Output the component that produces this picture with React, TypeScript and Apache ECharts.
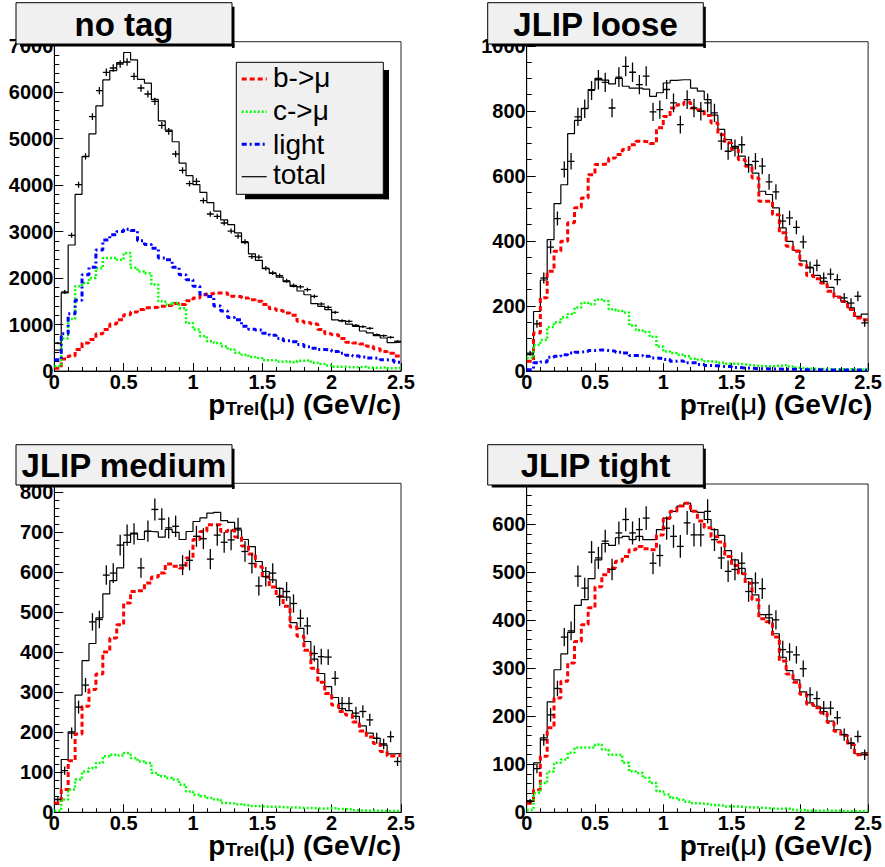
import React, { useEffect, useRef } from "react";
import * as echarts from "echarts";

const X_MIN = 0;
const X_MAX = 2.5;
const BIN_WIDTH = 0.05;

// ---------- panel 1: no tag ----------
const NOTAG_TOTAL = [450, 1680, 2710, 3800, 4610, 5100, 5700, 6260, 6460, 6630, 6850, 6690, 6270, 6190, 5840, 5380, 5180, 4930, 4470, 4200, 4010, 3840, 3620, 3440, 3250, 3150, 2970, 2760, 2520, 2380, 2200, 2100, 2020, 1920, 1820, 1720, 1640, 1450, 1390, 1320, 1100, 1080, 1010, 960, 860, 820, 760, 710, 610, 620];
const NOTAG_B = [60, 260, 320, 460, 600, 680, 800, 890, 1010, 1100, 1210, 1270, 1320, 1360, 1370, 1390, 1410, 1450, 1430, 1510, 1570, 1640, 1660, 1680, 1680, 1610, 1600, 1570, 1530, 1500, 1430, 1340, 1300, 1250, 1200, 1070, 1040, 1010, 890, 800, 780, 700, 620, 600, 580, 530, 480, 420, 380, 320];
const NOTAG_C = [100, 700, 1120, 1820, 1890, 2000, 2210, 2430, 2430, 2390, 2540, 2220, 2140, 2100, 1860, 1500, 1430, 1460, 1350, 1030, 890, 750, 640, 600, 530, 460, 390, 350, 300, 280, 230, 230, 200, 210, 190, 220, 230, 180, 150, 120, 90, 90, 80, 80, 90, 70, 70, 80, 60, 70];
const NOTAG_LIGHT = [240, 800, 1230, 1520, 2070, 2230, 2600, 2820, 2930, 3000, 3050, 3020, 2800, 2720, 2640, 2430, 2390, 2230, 2070, 1960, 1820, 1650, 1600, 1400, 1290, 1150, 1100, 960, 900, 880, 810, 770, 700, 650, 630, 570, 520, 490, 460, 450, 420, 380, 340, 320, 300, 280, 270, 240, 230, 190];
const NOTAG_DATA = [600, 1700, 2918, 4007, 4616, 5470, 6029, 6423, 6516, 6602, 6645, 6337, 6086, 5957, 5799, 5283, 5154, 4667, 4315, 4029, 4079, 3663, 3376, 3326, 3183, 3010, 2900, 2780, 2460, 2450, 2210, 2110, 2050, 1940, 1840, 1810, 1750, 1606, 1441, 1369, 1262, 1082, 1068, 982, 953, 918, 781, 760, 724, 640];

// ---------- panel 2: JLIP loose ----------
const LOOSE_TOTAL = [50, 183, 280, 404, 515, 573, 730, 771, 808, 866, 900, 895, 883, 900, 876, 870, 870, 867, 845, 856, 886, 894, 896, 896, 870, 861, 835, 787, 743, 712, 691, 661, 635, 609, 553, 543, 502, 440, 399, 371, 339, 317, 294, 276, 257, 230, 214, 194, 168, 175];
const LOOSE_B = [30, 117, 225, 307, 368, 399, 456, 502, 532, 604, 635, 637, 655, 666, 681, 696, 707, 705, 700, 748, 783, 809, 819, 827, 809, 804, 786, 763, 727, 702, 681, 650, 630, 594, 522, 522, 481, 425, 384, 368, 327, 294, 284, 271, 245, 227, 214, 189, 163, 158];
const LOOSE_C = [40, 80, 95, 135, 150, 165, 175, 195, 210, 205, 220, 215, 190, 185, 180, 140, 125, 120, 105, 75, 60, 55, 50, 45, 38, 35, 30, 28, 25, 22, 22, 20, 18, 16, 15, 14, 16, 18, 14, 10, 8, 7, 6, 6, 5, 5, 5, 5, 4, 5];
const LOOSE_LIGHT = [4, 25, 28, 42, 45, 50, 55, 58, 60, 63, 65, 63, 61, 58, 55, 48, 48, 45, 40, 38, 35, 30, 31, 25, 25, 20, 17, 16, 14, 14, 11, 9, 9, 7, 7, 6, 6, 5, 5, 5, 4, 4, 4, 3, 3, 3, 3, 3, 3, 3];
const LOOSE_DATA = [55, 145, 286, 381, 469, 620, 645, 782, 807, 863, 896, 888, 809, 904, 937, 919, 881, 907, 797, 804, 866, 825, 758, 835, 809, 799, 825, 794, 707, 676, 686, 696, 635, 645, 630, 582, 551, 461, 471, 442, 397, 319, 325, 286, 298, 281, 225, 209, 230, 148];

// ---------- panel 3: JLIP medium ----------
const MEDIUM_TOTAL = [32, 132, 201, 293, 379, 422, 486, 546, 579, 611, 675, 698, 682, 702, 701, 688, 707, 700, 682, 702, 727, 736, 748, 750, 729, 725, 706, 682, 664, 627, 602, 581, 560, 538, 474, 460, 427, 383, 347, 314, 287, 259, 254, 240, 216, 198, 185, 168, 146, 147];
const MEDIUM_B = [23, 57, 129, 196, 265, 307, 346, 401, 436, 469, 523, 552, 554, 573, 588, 598, 621, 615, 611, 636, 682, 702, 719, 719, 702, 705, 688, 666, 646, 614, 588, 563, 540, 515, 463, 440, 405, 360, 325, 297, 268, 252, 243, 226, 203, 188, 172, 152, 141, 142];
const MEDIUM_C = [4, 32, 57, 82, 102, 111, 123, 140, 144, 142, 148, 136, 127, 123, 98, 90, 86, 82, 69, 52, 44, 40, 36, 32, 23, 22, 20, 18, 16, 15, 14, 14, 13, 12, 12, 11, 11, 10, 9, 10, 10, 8, 7, 5, 4, 4, 4, 3, 3, 3];
const MEDIUM_DATA = [32, 104, 198, 263, 318, 476, 482, 593, 598, 668, 693, 696, 611, 703, 757, 733, 711, 715, 618, 630, 690, 684, 633, 693, 675, 681, 710, 652, 622, 566, 589, 598, 539, 552, 522, 485, 466, 397, 389, 388, 335, 272, 272, 248, 252, 231, 185, 171, 189, 127];

// ---------- panel 4: JLIP tight ----------
const TIGHT_TOTAL = [24, 103, 155, 230, 297, 330, 375, 431, 443, 487, 526, 560, 556, 572, 575, 568, 575, 568, 568, 589, 613, 627, 638, 644, 627, 625, 610, 589, 577, 545, 526, 508, 487, 453, 412, 405, 372, 323, 295, 276, 251, 228, 221, 210, 190, 172, 162, 144, 122, 124];
const TIGHT_B = [19, 47, 117, 176, 238, 273, 311, 356, 391, 426, 470, 495, 509, 523, 533, 547, 554, 549, 547, 578, 612, 627, 638, 644, 627, 607, 593, 574, 563, 533, 514, 497, 477, 443, 403, 397, 365, 315, 288, 271, 246, 225, 218, 207, 187, 169, 160, 141, 120, 121];
const TIGHT_C = [5, 40, 61, 85, 103, 110, 124, 135, 135, 135, 141, 131, 120, 120, 103, 85, 82, 72, 61, 44, 37, 30, 26, 22, 19, 18, 17, 15, 14, 12, 12, 11, 10, 10, 9, 8, 7, 8, 7, 5, 5, 3, 3, 3, 3, 3, 2, 3, 2, 3];
const TIGHT_DATA = [23, 91, 151, 203, 258, 365, 378, 492, 467, 542, 530, 565, 506, 582, 610, 582, 589, 613, 519, 535, 592, 575, 554, 603, 578, 578, 627, 568, 530, 502, 506, 519, 460, 478, 466, 412, 401, 339, 334, 328, 299, 245, 237, 217, 217, 197, 162, 144, 158, 120];

const TITLES = ["no tag", "JLIP loose", "JLIP medium", "JLIP tight"];
const LEGEND_LABELS = ["b->μ", "c->μ", "light", "total"];

const FONT = '"Liberation Sans", Arial, Helvetica, sans-serif';

const STYLE_B = { color: "#ff0000", width: 3, type: [5, 3] as any };
const STYLE_C = { color: "#00ff00", width: 2.5, type: [2, 2] as any };
const STYLE_L = { color: "#0000ff", width: 3, type: [5, 3, 2, 3] as any };
const STYLE_T = { color: "#000000", width: 1.2, type: "solid" as any };

type Panel = {
  total: number[];
  b: number[];
  c: number[];
  light: number[] | null;
  data: number[];
  yMax: number;
  yInterval: number;
  yMinor: number;
  grid: { left: number; top: number; width: number; height: number };
  box: { x: number; y: number; w: number; h: number };
};

const PANELS: Panel[] = [
  {
    total: NOTAG_TOTAL, b: NOTAG_B, c: NOTAG_C, light: NOTAG_LIGHT, data: NOTAG_DATA,
    yMax: 7082, yInterval: 1000, yMinor: 5,
    grid: { left: 54.3, top: 41.7, width: 346.7, height: 329.3 },
    box: { x: 16, y: 2.7, w: 216, h: 41.3 },
  },
  {
    total: LOOSE_TOTAL, b: LOOSE_B, c: LOOSE_C, light: LOOSE_LIGHT, data: LOOSE_DATA,
    yMax: 1013, yInterval: 200, yMinor: 4,
    grid: { left: 526.7, top: 41.7, width: 345.6, height: 329.3 },
    box: { x: 487.7, y: 2.7, w: 215.6, h: 41.3 },
  },
  {
    total: MEDIUM_TOTAL, b: MEDIUM_B, c: MEDIUM_C, light: null, data: MEDIUM_DATA,
    yMax: 822.5, yInterval: 100, yMinor: 5,
    grid: { left: 54.3, top: 483.3, width: 346.7, height: 329 },
    box: { x: 16, y: 444.7, w: 216, h: 40.3 },
  },
  {
    total: TIGHT_TOTAL, b: TIGHT_B, c: TIGHT_C, light: null, data: TIGHT_DATA,
    yMax: 684, yInterval: 100, yMinor: 5,
    grid: { left: 526.7, top: 484, width: 345.6, height: 328.3 },
    box: { x: 487.7, y: 444.7, w: 215.6, h: 40.3 },
  },
];

function stepData(vals: number[]) {
  const pts = vals.map((v, i) => [X_MIN + i * BIN_WIDTH, v]);
  pts.push([X_MAX, vals[vals.length - 1]]);
  return pts;
}

function pointData(vals: number[]) {
  return vals.map((v, i) => [X_MIN + (i + 0.5) * BIN_WIDTH, v, Math.sqrt(v)]);
}

function renderCross(params: any, api: any) {
  const x = api.value(0);
  const y = api.value(1);
  const e = api.value(2);
  const c = api.coord([x, y]);
  const l = api.coord([x - BIN_WIDTH / 2, y]);
  const r = api.coord([x + BIN_WIDTH / 2, y]);
  const t = api.coord([x, y + e]);
  const b = api.coord([x, y - e]);
  const st = { stroke: "#000", lineWidth: 1.3 };
  return {
    type: "group",
    children: [
      { type: "line", shape: { x1: l[0], y1: c[1], x2: r[0], y2: c[1] }, style: st },
      { type: "line", shape: { x1: c[0], y1: t[1], x2: c[0], y2: b[1] }, style: st },
    ],
  };
}

function buildOption() {
  const grids: any[] = [];
  const xAxes: any[] = [];
  const yAxes: any[] = [];
  const series: any[] = [];
  const graphics: any[] = [];

  PANELS.forEach((p, i) => {
    grids.push({
      ...p.grid,
      show: true,
      borderColor: "#222",
      borderWidth: 1,
      backgroundColor: "transparent",
      containLabel: false,
    });
    xAxes.push({
      gridIndex: i,
      type: "value",
      min: X_MIN,
      max: X_MAX,
      interval: 0.5,
      axisLine: { show: true, lineStyle: { color: "#000", width: 1 } },
      axisTick: { show: true, inside: true, length: 8, lineStyle: { color: "#000" } },
      minorTick: { show: true, splitNumber: 5, length: 4, lineStyle: { color: "#000" } },
      splitLine: { show: false },
      axisLabel: {
        color: "#000",
        fontFamily: FONT,
        fontWeight: "bold",
        fontSize: 20,
        margin: 2,
        lineHeight: 18,
        formatter: (v: number) => String(v),
      },
    });
    yAxes.push({
      gridIndex: i,
      type: "value",
      min: 0,
      max: p.yMax,
      interval: p.yInterval,
      axisLine: { show: true, lineStyle: { color: "#000", width: 1 } },
      axisTick: { show: true, inside: true, length: 9, lineStyle: { color: "#000" } },
      minorTick: { show: true, splitNumber: p.yMinor, length: 5, lineStyle: { color: "#000" } },
      splitLine: { show: false },
      axisLabel: {
        color: "#000",
        fontFamily: FONT,
        fontWeight: "bold",
        fontSize: 20,
        margin: 1,
        formatter: (v: number) => (Math.abs(v % p.yInterval) < 1e-6 ? String(v) : ""),
      },
    });

    const mk = (name: string, vals: number[], ls: any, z: number) => ({
      name,
      type: "line",
      xAxisIndex: i,
      yAxisIndex: i,
      data: stepData(vals),
      step: "end",
      showSymbol: false,
      symbol: "none",
      lineStyle: ls,
      z,
      silent: true,
    });
    series.push(mk("total", p.total, STYLE_T, 2));
    series.push(mk("b->μ", p.b, STYLE_B, 3));
    series.push(mk("c->μ", p.c, STYLE_C, 3));
    if (p.light) series.push(mk("light", p.light, STYLE_L, 3));
    series.push({
      name: "data",
      type: "custom",
      xAxisIndex: i,
      yAxisIndex: i,
      data: pointData(p.data),
      encode: { x: 0, y: 1 },
      renderItem: renderCross,
      clip: true,
      z: 5,
      silent: true,
    });

    // title box with shadow
    const bx = p.box;
    graphics.push(
      { type: "rect", z: 100, shape: { x: bx.x + bx.w, y: bx.y + 4, width: 2.5, height: bx.h }, style: { fill: "#000" } },
      { type: "rect", z: 100, shape: { x: bx.x + 4, y: bx.y + bx.h, width: bx.w - 1.5, height: 2.5 }, style: { fill: "#000" } },
      { type: "rect", z: 101, shape: { x: bx.x, y: bx.y, width: bx.w, height: bx.h }, style: { fill: "#f0f0f0", stroke: "#000", lineWidth: 1 } },
      {
        type: "text",
        z: 102,
        x: bx.x + bx.w / 2,
        y: bx.y + bx.h / 2 + 1,
        style: {
          text: TITLES[i],
          fill: "#000",
          fontFamily: FONT,
          fontWeight: "bold",
          fontSize: 33,
          align: "center",
          verticalAlign: "middle",
          textAlign: "center",
          textVerticalAlign: "middle",
        },
      }
    );

    // x axis title
    const g = p.grid;
    graphics.push({
      type: "text",
      z: 102,
      x: g.left + g.width,
      y: g.top + g.height + 35,
      style: {
        text: "{a|p}{b|Trel}{a|(}{m|μ}{a|) (GeV/c)}",
        align: "right",
        verticalAlign: "middle",
        textAlign: "right",
        textVerticalAlign: "middle",
        rich: {
          a: { fontFamily: FONT, fontWeight: "bold", fontSize: 28, fill: "#000", color: "#000", verticalAlign: "bottom", lineHeight: 24 },
          b: { fontFamily: FONT, fontWeight: "bold", fontSize: 19, fill: "#000", color: "#000", verticalAlign: "bottom", lineHeight: 22 },
          m: { fontFamily: FONT, fontWeight: "normal", fontSize: 30, fill: "#000", color: "#000", verticalAlign: "bottom", lineHeight: 24 },
        },
      },
    });
  });

  // legend (panel 1)
  const L = { x: 236.3, y: 62.3, w: 147, h: 132 };
  graphics.push(
    { type: "rect", z: 100, shape: { x: L.x + L.w, y: L.y + 7.7, width: 5.7, height: L.h - 2.7 }, style: { fill: "#000" } },
    { type: "rect", z: 100, shape: { x: L.x + 8.7, y: L.y + L.h, width: L.w - 3, height: 5 }, style: { fill: "#000" } },
    { type: "rect", z: 101, shape: { x: L.x, y: L.y, width: L.w, height: L.h }, style: { fill: "#f0f0f0", stroke: "#000", lineWidth: 1 } }
  );
  const legendStyles = [STYLE_B, STYLE_C, STYLE_L, STYLE_T];
  const lineYs = [79, 111.7, 144.3, 176.7];
  const textYs = [77, 110, 144, 174.5];
  LEGEND_LABELS.forEach((lab, k) => {
    const s = legendStyles[k];
    graphics.push({
      type: "line",
      z: 102,
      shape: { x1: 241.7, y1: lineYs[k], x2: 266.7, y2: lineYs[k] },
      style: {
        stroke: s.color,
        lineWidth: s.width,
        lineDash: Array.isArray(s.type) ? s.type : null,
      },
    });
    graphics.push({
      type: "text",
      z: 102,
      x: 273,
      y: textYs[k],
      style: {
        text: lab,
        fill: "#000",
        fontFamily: FONT,
        fontWeight: "normal",
        fontSize: 28,
        align: "left",
        verticalAlign: "middle",
        textAlign: "left",
        textVerticalAlign: "middle",
      },
    });
  });

  return {
    animation: false,
    backgroundColor: "#ffffff",
    grid: grids,
    xAxis: xAxes,
    yAxis: yAxes,
    series,
    graphic: { elements: graphics },
  };
}

export default function App() {
  const ref = useRef<HTMLDivElement>(null);
  useEffect(() => {
    if (!ref.current) return;
    const chart = echarts.init(ref.current, undefined, { renderer: "svg" });
    chart.setOption(buildOption() as any);
    return () => chart.dispose();
  }, []);
  return (
    <div
      ref={ref}
      style={{ position: "absolute", left: 0, top: 0, width: 885, height: 867, background: "#fff" }}
    />
  );
}
